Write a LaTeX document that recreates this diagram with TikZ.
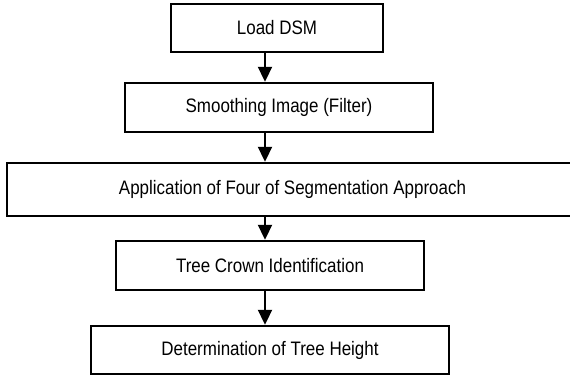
\documentclass[tikz,border=0pt]{standalone}
\usepackage{fontspec}
\setmainfont{Liberation Sans}[FakeStretch=0.87]
\usetikzlibrary{arrows.meta}
\begin{document}
\begin{tikzpicture}[x=1pt,y=-1pt,
  box/.style={draw=black,line width=2.4pt,inner sep=0pt,fill=white,
    font=\fontsize{19.5}{22}\selectfont},
  flow/.style={line width=2pt,-{Triangle[width=14pt,length=15pt]}}]
\useasboundingbox (0,0) rectangle (570,377);
\node[box,minimum width=212pt,minimum height=48pt] (n1) at (277,28) {Load DSM};
\node[box,minimum width=308pt,minimum height=49pt] (n2) at (279,107.5) {Smoothing Image (Filter)};
\node[box,minimum width=571pt,minimum height=53pt] (n3) at (292.5,189.5) {Application of Four of Segmentation Approach};
\node[box,minimum width=308pt,minimum height=49pt] (n4) at (270,265.5) {Tree Crown Identification};
\node[box,minimum width=358pt,minimum height=48pt] (n5) at (270,350) {Determination of Tree Height};
\coordinate (ax) at (265,0);
\draw[flow] (ax |- n1.south) -- (ax |- n2.north);
\draw[flow] (ax |- n2.south) -- (ax |- n3.north);
\draw[flow] (ax |- n3.south) -- (ax |- n4.north);
\draw[flow] (ax |- n4.south) -- (ax |- n5.north);
\end{tikzpicture}
\end{document}
